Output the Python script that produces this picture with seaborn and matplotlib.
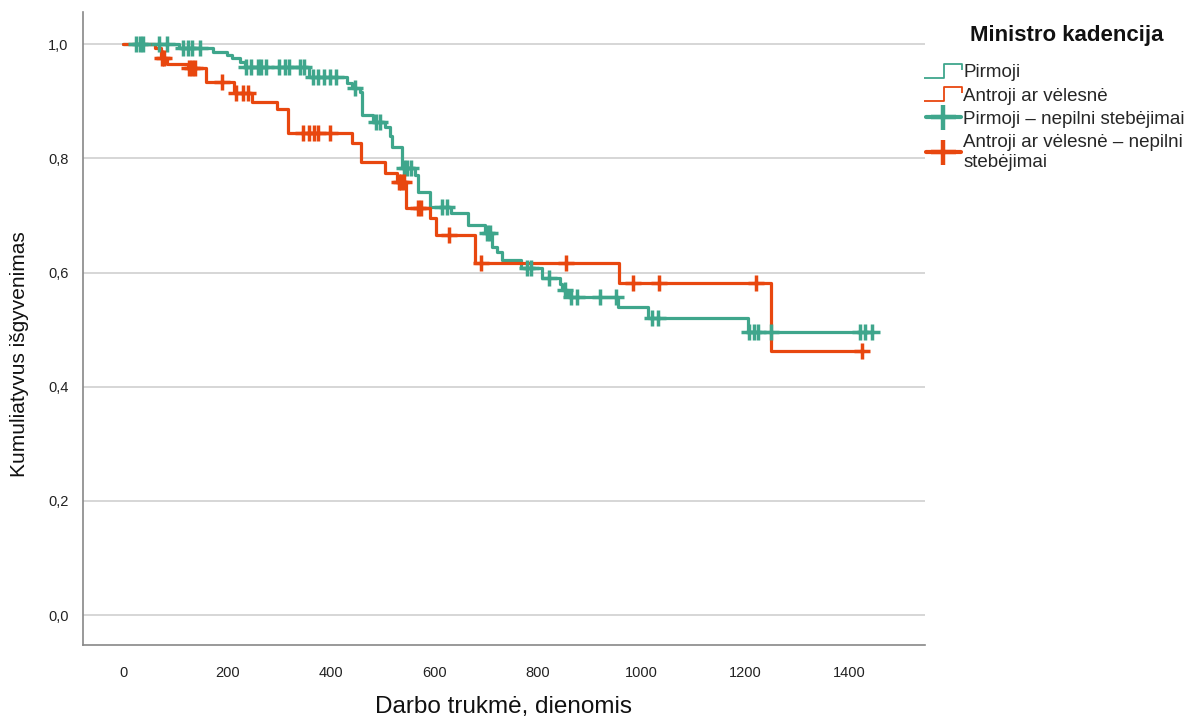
import numpy as np
import pandas as pd
import matplotlib
matplotlib.use("Agg")
import matplotlib.pyplot as plt
import seaborn as sns
from matplotlib.lines import Line2D
from matplotlib.path import Path

# Kaplan-Meier curves
groups = ["Pirmoji", "Antroji ar vėlesnė"]

green_event_days = [108, 172, 199, 210, 224, 234, 359, 431, 442, 456, 461, 481, 504, 514,
                    519, 537, 562, 568, 591, 633, 664, 697, 712, 720, 730, 768, 807, 842,
                    847, 857, 954, 1012, 1205]
green_surv = [0.994, 0.987, 0.981, 0.975, 0.968, 0.960, 0.943, 0.932, 0.923, 0.916, 0.876,
              0.864, 0.855, 0.840, 0.820, 0.783, 0.771, 0.741, 0.715, 0.704, 0.683, 0.669,
              0.645, 0.636, 0.622, 0.608, 0.590, 0.580, 0.569, 0.557, 0.540, 0.520, 0.496]
green_censored = [25, 31, 37, 69, 85, 114, 124, 133, 147, 237, 247, 259, 266, 276, 301, 311,
                  320, 340, 349, 365, 375, 388, 398, 411, 446, 488, 496, 541, 548, 555, 614,
                  624, 701, 708, 778, 786, 822, 853, 863, 875, 919, 950, 1021, 1031, 1208,
                  1216, 1224, 1249, 1421, 1432, 1444]

orange_event_days = [60, 73, 85, 124, 160, 214, 249, 297, 317, 442, 459, 504, 528, 546, 591,
                     604, 678, 956, 1249]
orange_surv = [0.994, 0.975, 0.966, 0.958, 0.934, 0.914, 0.899, 0.886, 0.844, 0.827, 0.793,
               0.774, 0.759, 0.713, 0.695, 0.665, 0.617, 0.581, 0.463]
orange_censored = [75, 79, 127, 133, 139, 191, 218, 230, 241, 346, 359, 367, 375, 398, 531,
                   536, 541, 568, 575, 629, 691, 855, 983, 1033, 1220, 1425]

colors = {"Pirmoji": "#3fa68c", "Antroji ar vėlesnė": "#e8470f"}


def build_curve(group, days, surv, censored):
    """Step curve points plus censor marks placed on the curve."""
    times = np.array([0] + list(days), dtype=float)
    levels = np.array([1.0] + list(surv))
    end = max(censored)
    curve = pd.DataFrame({"time": list(times) + [end],
                          "surv": list(levels) + [levels[-1]],
                          "group": group})
    idx = np.searchsorted(times, censored, side="right") - 1
    marks = pd.DataFrame({"time": censored, "surv": levels[idx], "group": group})
    return curve, marks


g_curve, g_marks = build_curve(groups[0], green_event_days, green_surv, green_censored)
o_curve, o_marks = build_curve(groups[1], orange_event_days, orange_surv, orange_censored)

sns.set_style("white")
plt.rcParams["font.family"] = ["Liberation Sans", "DejaVu Sans"]

fig = plt.figure(figsize=(11.96, 7.2), dpi=100)
ax = fig.add_axes([0.069, 0.104, 0.704, 0.879])

for curve, marks in [(g_curve, g_marks), (o_curve, o_marks)]:
    grp = curve["group"].iloc[0]
    sns.lineplot(data=curve, x="time", y="surv", drawstyle="steps-post", estimator=None,
                 color=colors[grp], linewidth=2.3, ax=ax, legend=False)
    sns.scatterplot(data=marks, x="time", y="surv", marker="+", s=130, linewidth=2.5,
                    color=colors[grp], ax=ax, legend=False, zorder=3)

ax.set_xlim(-79, 1546)
ax.set_ylim(-0.0525, 1.056)
ax.set_xticks(np.arange(0, 1401, 200))
ax.set_yticks(np.arange(0, 1.01, 0.2))
ax.set_yticklabels([f"{v:.1f}".replace(".", ",") for v in np.arange(0, 1.01, 0.2)])
ax.yaxis.grid(True, color="#d0d0d0", linewidth=1.2)
ax.set_axisbelow(True)
ax.tick_params(axis="both", length=0, labelsize=10.5, colors="#222222")
ax.tick_params(axis="x", pad=15)
ax.tick_params(axis="y", pad=10)
for side in ["top", "right"]:
    ax.spines[side].set_visible(False)
for side in ["left", "bottom"]:
    ax.spines[side].set_color("#888888")
    ax.spines[side].set_linewidth(1.2)

ax.set_xlabel("Darbo trukmė, dienomis", fontsize=17.5, va="center", color="#111111")
ax.set_ylabel("Kumuliatyvus išgyvenimas", fontsize=15, va="center", color="#111111")
ax.xaxis.set_label_coords(0.5, -0.098)
ax.yaxis.set_label_coords(-0.075, 0.46)

# legend: step icons for the curves, plus icons for censored cases
step_icon = Path([(-1, -0.35), (0.05, -0.35), (0.05, 0.35), (1, 0.35), (1, 0.05)])
handles = [
    Line2D([], [], marker=step_icon, markersize=28, linestyle="none", markerfacecolor="none",
           markeredgecolor=colors[groups[0]], markeredgewidth=1.3),
    Line2D([], [], marker=step_icon, markersize=28, linestyle="none", markerfacecolor="none",
           markeredgecolor=colors[groups[1]], markeredgewidth=1.3),
    Line2D([], [], color=colors[groups[0]], linewidth=3, marker="+", markersize=18,
           markeredgewidth=3.2),
    Line2D([], [], color=colors[groups[1]], linewidth=3, marker="+", markersize=18,
           markeredgewidth=3.2),
]
labels = ["Pirmoji", "Antroji ar vėlesnė", "Pirmoji – nepilni stebėjimai",
          "Antroji ar vėlesnė – nepilni\nstebėjimai"]
fig.text(1067 / 1196, 1 - 35 / 720, "Ministro kadencija", fontsize=16, fontweight="bold",
         ha="center", va="center", color="#111111")
leg = fig.legend(handles, labels, loc="upper left", bbox_to_anchor=(0.763, 0.929),
                 frameon=False, fontsize=13.5,
                 handlelength=1.9, handletextpad=0.1, labelspacing=0.33, borderpad=0.2)

fig.savefig("out.png", dpi=100)
